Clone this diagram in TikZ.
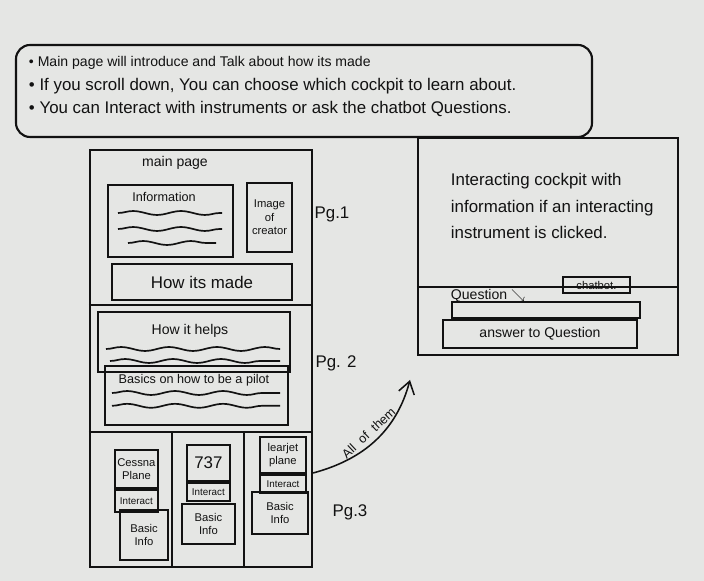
\documentclass[tikz,border=0pt]{standalone}
\usepackage{fontspec}
\setmainfont{Liberation Sans}
\usetikzlibrary{positioning,arrows.meta,calc,decorations.pathmorphing}
\definecolor{board}{RGB}{229,230,228}
\definecolor{ink}{RGB}{18,18,18}

\begin{document}
\begin{tikzpicture}[
  box/.style={draw=ink, line width=1.5pt, inner sep=1pt, align=center},
  div/.style={draw=ink, line width=1.6pt},
  wave/.style={draw=ink, line width=1.2pt, decorate, decoration={snake, amplitude=1.4pt, segment length=12mm}},
  every node/.style={text=ink, font=\normalsize}
]
% whiteboard
\fill[board] (0,0) rectangle (17.6,14.525);
\useasboundingbox (0,0) rectangle (17.6,14.525);

% notes at the top
\node[box, rounded corners=10pt, minimum width=14.4cm, minimum height=2.3cm] (notes) at (7.6,12.25) {};
\node[anchor=west] (n1) at (0.6,12.95) {\textbullet\ Main page will introduce and Talk about how its made};
\node[anchor=west, font=\large] (n2) at (0.6,12.38) {\textbullet\ If you scroll down, You can choose which cockpit to learn about.};
\node[anchor=west, font=\large] (n3) at (0.6,11.8) {\textbullet\ You can Interact with instruments or ask the chatbot Questions.};

% the scrolling page
\node[box, minimum width=5.55cm, minimum height=10.425cm] (page) at (5.025,5.5625) {};
\draw[div] (page.west |- 0,6.9) -- (page.east |- 0,6.9);
\draw[div] (page.west |- 0,3.725) -- (page.east |- 0,3.725);
\draw[div] (4.3,3.725) -- (4.3,0 |- page.south);
\draw[div] (6.1,3.725) -- (6.1,0 |- page.south);

% Pg.1
\node (title) at (4.375,10.45) {main page};
\node[box, minimum width=3.125cm, minimum height=1.8cm] (info) at (4.26,9.0) {};
\node[font=\small] (infot) at (4.1,9.6) {Information};
\draw[wave] (2.95,9.2) -- (5.55,9.2);
\draw[wave] (2.95,8.8) -- (5.55,8.8);
\draw[wave] (3.2,8.45) -- (5.4,8.45);
\node[box, minimum width=1.125cm, minimum height=1.725cm, font=\footnotesize] (creator) at (6.74,9.09) {Image\\of\\creator};
\node[box, minimum width=4.5cm, minimum height=0.9cm, font=\large] (made) at (5.05,7.475) {How its made};
\node[font=\large] (pg1) at (8.3,9.175) {Pg.1};

% Pg.2
\node[box, minimum width=4.8cm, minimum height=1.5cm] (helps) at (4.85,5.975) {};
\node (helpst) at (4.75,6.25) {How it helps};
\draw[wave] (2.65,5.8) -- (7.0,5.8);
\draw[wave] (2.75,5.5) -- (7.0,5.5);
\node[box, minimum width=4.575cm, minimum height=1.475cm] (pilot) at (4.91,4.64) {};
\node[font=\small] (pilott) at (4.85,5.02) {Basics on how to be a pilot};
\draw[wave] (2.8,4.7) -- (7.0,4.7);
\draw[wave] (2.8,4.38) -- (7.0,4.38);
\node[font=\large] (pg2) at (8.4,5.45) {Pg. 2};

% Pg.3
\node[box, minimum width=1.075cm, minimum height=0.95cm, font=\footnotesize] (cessna) at (3.41,2.8) {Cessna\\Plane};
\node[box, below=0pt of cessna, minimum width=1.075cm, minimum height=0.55cm, font=\scriptsize] (cint) {Interact};
\node[box, minimum width=1.2cm, minimum height=1.25cm, font=\footnotesize] (cbasic) at (3.6,1.15) {Basic\\Info};

\node[box, minimum width=1.075cm, minimum height=0.9cm, font=\large] (b737) at (5.21,2.95) {737};
\node[box, below=0pt of b737, minimum width=1.075cm, minimum height=0.45cm, font=\scriptsize] (bint) {Interact};
\node[box, minimum width=1.325cm, minimum height=1.0cm, font=\footnotesize] (bbasic) at (5.21,1.42) {Basic\\Info};

\node[box, minimum width=1.15cm, minimum height=0.9cm, font=\footnotesize] (lear) at (7.075,3.15) {learjet\\plane};
\node[box, below=0pt of lear, minimum width=1.15cm, minimum height=0.45cm, font=\scriptsize] (lint) {Interact};
\node[box, minimum width=1.4cm, minimum height=1.05cm, font=\footnotesize] (lbasic) at (7.0,1.7) {Basic\\Info};
\node[font=\large] (pg3) at (8.75,1.725) {Pg.3};

% cockpit screen
\node[box, minimum width=6.5cm, minimum height=5.425cm] (cockpit) at (13.7,8.3625) {};
\draw[div] (cockpit.west |- 0,7.35) -- (cockpit.east |- 0,7.35);
\node[anchor=west, align=left, font=\large] (cockpitt) at (11.15,9.375) {Interacting cockpit with\\[5pt]information if an interacting\\[5pt]instrument is clicked.};
\node[box, minimum width=1.675cm, minimum height=0.4cm, font=\footnotesize] (chat) at (14.91,7.4) {chatbot.};
\node[anchor=west] (quest) at (11.15,7.12) {Question $\searrow$};
\node[box, minimum width=4.7cm, minimum height=0.4cm] (qbar) at (13.65,6.775) {};
\node[box, minimum width=4.85cm, minimum height=0.7cm] (answer) at (13.5,6.175) {answer to Question};

% All of them
\coordinate (from) at (page.east |- 0,2.7);
\coordinate (to) at (10.25,5.025);
\draw[ink, line width=1.1pt, -{Straight Barb[length=3mm, width=4mm]}] (from) to[out=15, in=-105] node[sloped, above, pos=0.5, font=\small] {All\hspace{0.6em}of\hspace{0.6em}them} (to);
\end{tikzpicture}
\end{document}
